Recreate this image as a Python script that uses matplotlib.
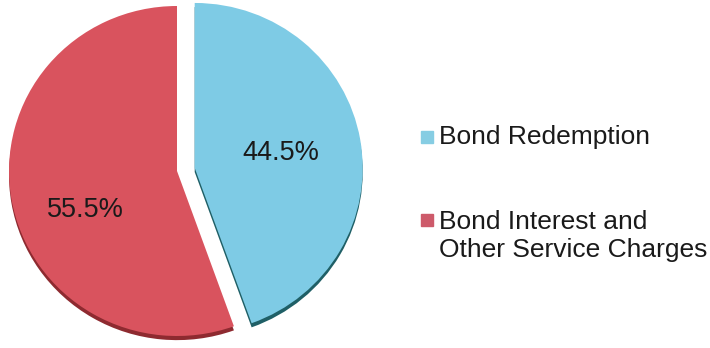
import matplotlib
matplotlib.use("Agg")
import matplotlib.pyplot as plt
from matplotlib.patches import Rectangle

labels = ["Bond Redemption", "Bond Interest and\nOther Service Charges"]
shares = [44.5, 55.5]
colors = ["#7ECBE5", "#D9535E"]
edge_colors = ["#1F5F66", "#8E2A30"]
legend_colors = ["#86CDE3", "#CD5A6A"]

plt.rcParams["font.family"] = ["Liberation Sans", "DejaVu Sans"]

W, H = 710, 348
fig = plt.figure(figsize=(W / 100, H / 100), dpi=100)

# pie centre at (177, 171) px, radius 168 px across, 165 px tall
CX, CY, RX, RY = 177, 171, 168, 165
AX_W = 392
ax = fig.add_axes([0, 0, AX_W / W, 1])
xlim = (-CX / RX, (AX_W - CX) / RX)
ylim = (-(H - CY) / RY, CY / RY)

explode = [0.107, 0]
# darker copy underneath gives the thin 3D edge
ax.pie(shares, colors=edge_colors, startangle=90, counterclock=False,
       explode=explode, center=(0.0, -0.025), radius=1,
       wedgeprops=dict(linewidth=0))
wedges, _, autotexts = ax.pie(
    shares, colors=colors, startangle=90, counterclock=False,
    explode=explode, radius=1, autopct="%.1f%%", pctdistance=0.52,
    wedgeprops=dict(linewidth=0),
    textprops=dict(fontsize=19.5, color="#1a1a1a"))
ax.set_xlim(*xlim)
ax.set_ylim(*ylim)
ax.set_aspect("auto")
ax.axis("off")
autotexts[1].set_position((-0.548, -0.236))

# legend drawn by hand (y measured from the top)
ys = [137, 236]
for lab, col, y in zip(labels, legend_colors, ys):
    first = y if "\n" not in lab else y - 16
    fig.patches.append(Rectangle((421 / W, 1 - (first + 6) / H), 12 / W, 12 / H,
                                 transform=fig.transFigure, color=col))
    fig.text(439 / W, 1 - y / H, lab, fontsize=19, color="#1a1a1a",
             va="center", ha="left", linespacing=1.2)

fig.savefig("out.png", dpi=100)
